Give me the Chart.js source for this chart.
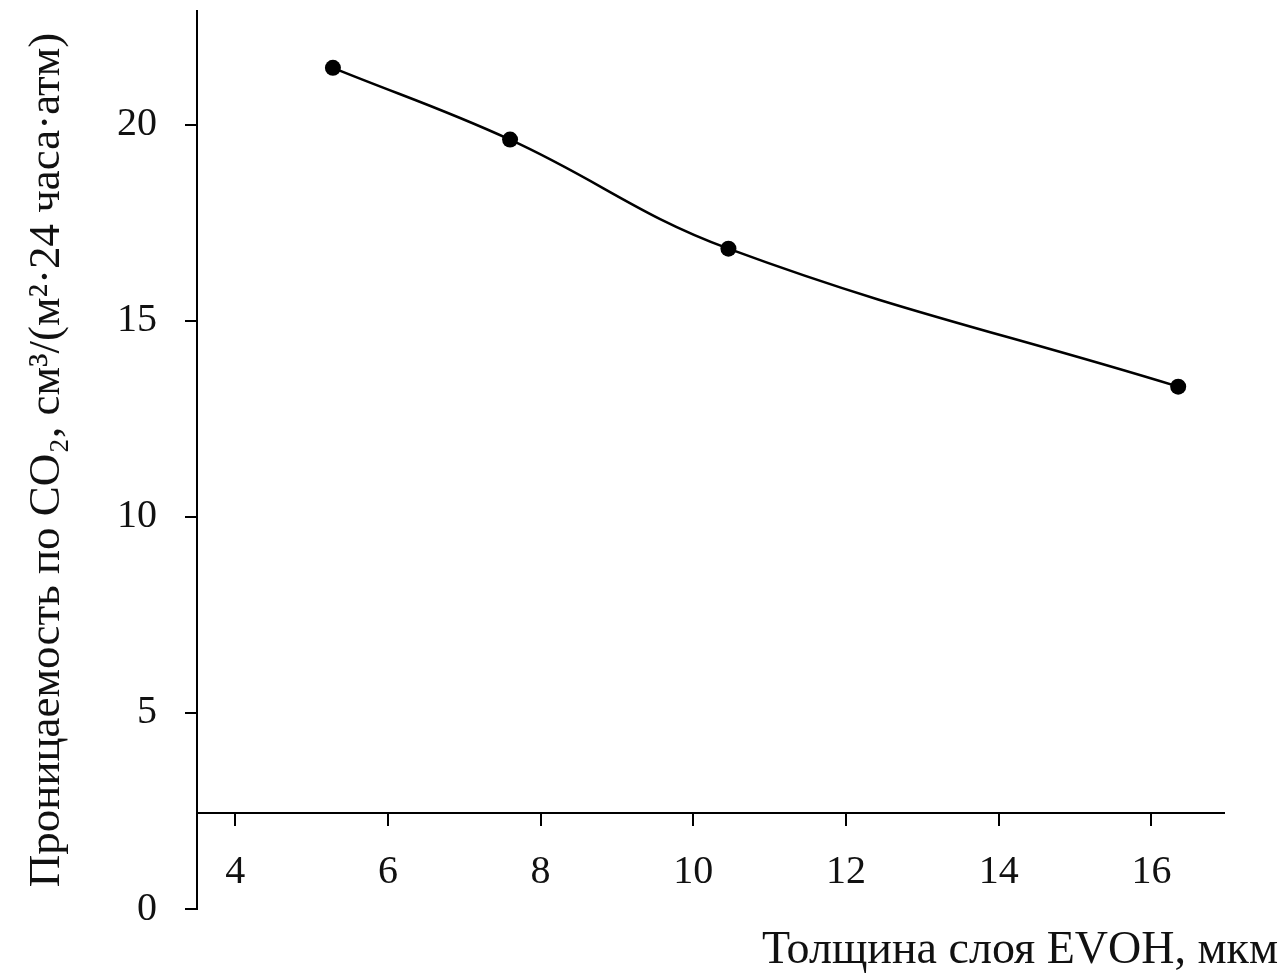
<!DOCTYPE html>
<html>
<head>
<meta charset="utf-8">
<script src="https://cdn.jsdelivr.net/npm/chart.js@4"></script>
<style>
  html, body { margin: 0; padding: 0; background: #ffffff; }
  #wrap { width: 1284px; height: 973px; }
</style>
</head>
<body>
<div id="wrap"><canvas id="c" width="1284" height="973"></canvas></div>
<script>
// ---- data ----
const thicknessUm = [5.28, 7.60, 10.46, 16.35];          // Толщина слоя EVOH, мкм
const permeabilityCO2 = [21.45, 19.62, 16.84, 13.32];    // см³/(м²·24 часа·атм)
const xTitle = 'Толщина слоя EVOH, мкм';
const yTitle = 'Проницаемость по CO₂, см³/(м²·24 часа·атм)';

const FONT = 'Liberation Serif, Times New Roman, serif';
const INK = '#111111';

const xTitlePlugin = {
  id: 'xTitle',
  afterDraw(chart) {
    const ctx = chart.ctx;
    ctx.save();
    ctx.font = '46px ' + FONT;
    ctx.fillStyle = INK;
    ctx.textAlign = 'right';
    ctx.textBaseline = 'alphabetic';
    ctx.fillText(xTitle, 1278, 963);
    ctx.restore();
  }
};

function noPad(scale) {
  scale.paddingTop = 0;
  scale.paddingBottom = 0;
  scale.paddingLeft = 0;
  scale.paddingRight = 0;
}

new Chart(document.getElementById('c'), {
  type: 'line',
  data: {
    datasets: [{
      data: thicknessUm.map((x, i) => ({ x: x, y: permeabilityCO2[i] })),
      borderColor: '#000000',
      borderWidth: 2.5,
      backgroundColor: '#000000',
      pointBackgroundColor: '#000000',
      pointBorderColor: '#000000',
      pointRadius: 8,
      pointBorderWidth: 0,
      tension: 0.4,
      fill: false
    }]
  },
  options: {
    responsive: false,
    animation: false,
    devicePixelRatio: 1,
    layout: { padding: { left: 0, right: 60, top: 11, bottom: 64 } },
    plugins: { legend: { display: false }, tooltip: { enabled: false } },
    scales: {
      x: {
        type: 'linear',
        position: { y: 2.45 },
        min: 3.5,
        max: 16.95,
        afterFit(scale) { noPad(scale); },
        ticks: { stepSize: 2, includeBounds: false, padding: 24, color: INK, font: { family: FONT, size: 40 } },
        grid: { drawOnChartArea: false, drawTicks: true, tickLength: 12, color: '#000000', lineWidth: 2 },
        border: { display: true, color: '#000000', width: 2 }
      },
      y: {
        type: 'linear',
        position: 'left',
        min: 0,
        max: 22.9,
        afterFit(scale) { scale.width = 197; noPad(scale); },
        ticks: { stepSize: 5, includeBounds: false, padding: 28, color: INK, font: { family: FONT, size: 40 } },
        grid: { drawOnChartArea: false, drawTicks: true, tickLength: 12, color: '#000000', lineWidth: 2 },
        border: { display: true, color: '#000000', width: 2 },
        title: { display: true, text: yTitle, color: INK, font: { family: FONT, size: 45 }, padding: { top: 20, bottom: 0 } }
      }
    }
  },
  plugins: [xTitlePlugin]
});
</script>
</body>
</html>
